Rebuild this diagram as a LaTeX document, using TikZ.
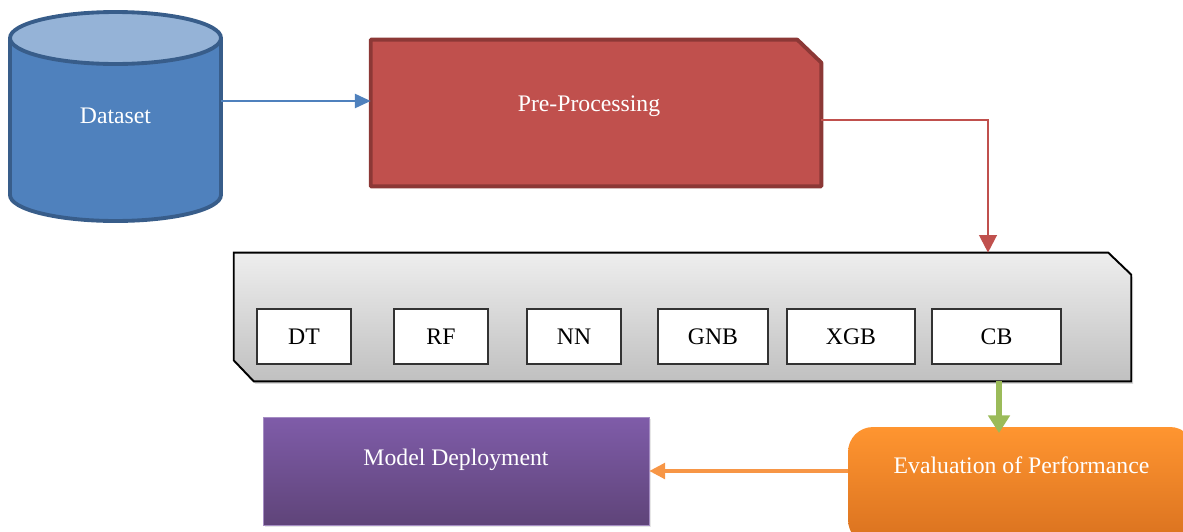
\documentclass[tikz,border=0pt]{standalone}
\usepackage{fontspec}
\setmainfont{Liberation Serif}
\usetikzlibrary{arrows.meta,shadows,backgrounds}

\definecolor{dsbody}{HTML}{4F81BD}
\definecolor{dstop}{HTML}{95B3D7}
\definecolor{dsedge}{HTML}{385D8A}
\definecolor{prefill}{HTML}{C0504D}
\definecolor{preedge}{HTML}{8C3836}
\definecolor{boxtop}{HTML}{EEEEEE}
\definecolor{boxbot}{HTML}{C0C0C0}
\definecolor{evgreen}{HTML}{9BBB59}
\definecolor{evorange}{HTML}{F79646}
\definecolor{evtop}{HTML}{FF9530}
\definecolor{evbot}{HTML}{D9711F}
\definecolor{deptop}{HTML}{7F5CA9}
\definecolor{depbot}{HTML}{5F4479}

\tikzset{
  txt/.style={font=\fontsize{13.5}{16}\selectfont},
  wtxt/.style={txt, text=white},
  model/.style={txt, draw=black!80, line width=0.6pt, fill=white,
    minimum height=1.1cm, inner sep=0pt},
  flow/.style={line width=1.3pt, -{Triangle[length=7pt,width=7pt]}}
}

\begin{document}
\begin{tikzpicture}[x=0.02cm, y=-0.02cm]
  \useasboundingbox (0,0) rectangle (1183,531);
  \clip (0,0) rectangle (1183,531);

  % Draw dataset cylinder
  \filldraw[draw=dsedge, fill=dsbody, line width=2.2pt]
    (10,38) -- (10,195) arc[start angle=180, end angle=360, x radius=2.11cm, y radius=0.52cm] -- (221,38);
  \filldraw[draw=dsedge, fill=dstop, line width=2.2pt]
    (115.5,38) ellipse [x radius=2.11cm, y radius=0.52cm];
  \node[wtxt] (data) at (115.5,116) {Dataset};

  % Pre-processing block
  \node[minimum width=9cm, minimum height=2.92cm, wtxt,
    text height=0.31cm, text depth=0.36cm] (pre) at (596,113) {Pre-Processing\kern0.28cm};

  % Container with the models
  \node[minimum width=17.94cm, minimum height=2.56cm] (cont) at (682.5,317) {};
  \node[model, minimum width=1.88cm] (dt) at (304,336.5) {DT};
  \node[model, minimum width=1.88cm] (rf) at (441,336.5) {RF};
  \node[model, minimum width=1.88cm] (nn) at (574,336.5) {NN};
  \node[model, minimum width=2.2cm] (gnb) at (713,336.5) {GNB};
  \node[model, minimum width=2.56cm] (xgb) at (851,336.5) {XGB};
  \node[model, minimum width=2.58cm] (cb) at (996.5,336.5) {CB};

  \begin{scope}[on background layer]
    \filldraw[draw=preedge, fill=prefill, line width=2.2pt, line join=round]
      (pre.south west) -- (pre.north west) -- ([xshift=-0.48cm]pre.north east)
      -- ([yshift=-0.46cm]pre.north east) -- (pre.south east) -- cycle;
    \filldraw[draw=black, line width=1.1pt, top color=boxtop, bottom color=boxbot,
      drop shadow={opacity=0.3, shadow xshift=1pt, shadow yshift=-1.5pt}]
      (cont.north west) -- ([xshift=-0.46cm]cont.north east) -- ([yshift=-0.44cm]cont.north east)
      -- (cont.south east) -- ([xshift=0.4cm]cont.south west) -- ([yshift=0.42cm]cont.south west) -- cycle;
  \end{scope}

  % Evaluation and deployment
  \node[rounded corners=0.5cm, top color=evtop, bottom color=evbot,
    minimum width=6.94cm, minimum height=2.36cm, wtxt,
    text height=0.31cm, text depth=0.8cm] (eval) at (1021.5,486) {Evaluation of Performance};
  \node[top color=deptop, bottom color=depbot, draw=deptop!70!white, line width=0.4pt,
    drop shadow={opacity=0.2, shadow xshift=1pt, shadow yshift=-1pt},
    minimum width=7.72cm, minimum height=2.16cm, wtxt,
    text height=0.31cm, text depth=0.52cm] (deploy) at (456,471) {Model Deployment};

  % Connectors
  \coordinate (dsout) at (221,101);
  \coordinate (turn) at (988,120);
  \coordinate (evout) at (848,471);
  \draw[flow, draw=dsbody, -{Triangle[length=9pt,width=8pt]}] (dsout) -- (dsout -| pre.west);
  \draw[flow, draw=prefill, -{Triangle[length=10pt,width=10pt]}] (pre.east |- turn) -- (turn) -- (turn |- cont.north);
  \draw[draw=evgreen, line width=3.5pt, -{Triangle[length=10pt,width=12pt]}] (999,381) -- (999,433);
  \draw[flow, draw=evorange, line width=1.8pt, -{Triangle[length=9pt,width=9pt]}] (evout) -- (evout -| deploy.east);
\end{tikzpicture}
\end{document}
